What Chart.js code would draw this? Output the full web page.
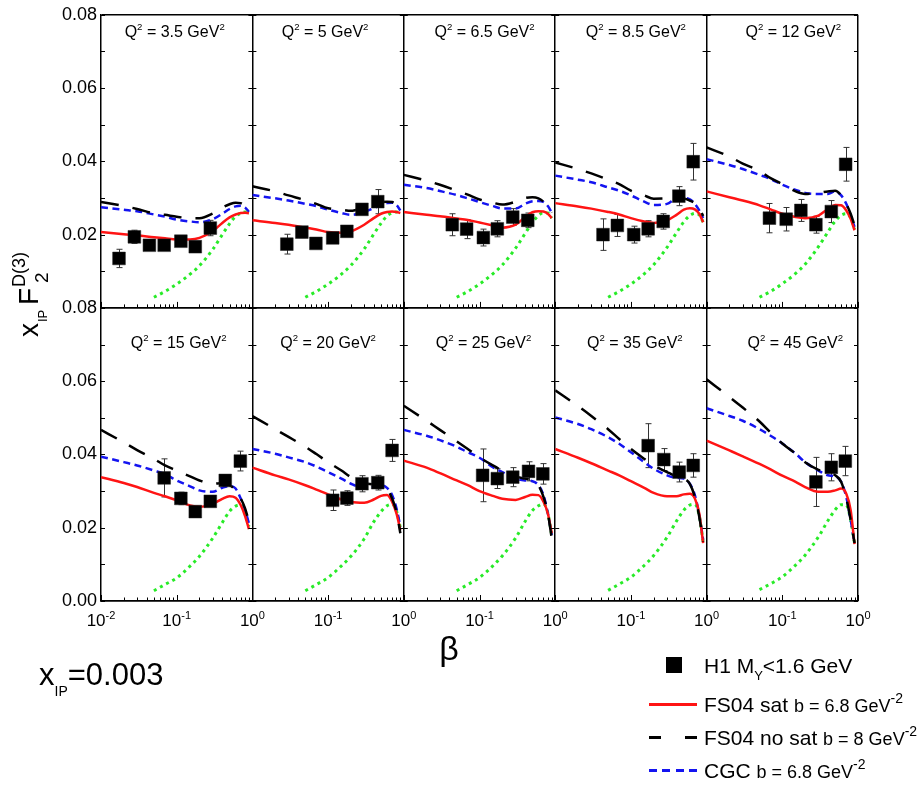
<!DOCTYPE html>
<html>
<head>
<meta charset="utf-8">
<script src="https://cdn.jsdelivr.net/npm/chart.js@4.4.1/dist/chart.umd.min.js"></script>
<style>
  body { margin: 0; background: #fff; }
  #wrap { position: relative; width: 923px; height: 787px; overflow: hidden;
          font-family: "Liberation Sans", Arial, sans-serif; color: #000; }
  #fig { position: absolute; left: 0; top: 0; }
  .lbl { position: absolute; white-space: nowrap; line-height: 1; }
  .sup { position: relative; font-size: 0.6em; top: -0.75em; }
  #ytitle { position: absolute; left: 0; top: 337px; width: 0; height: 0;
            transform-origin: 0 0; transform: rotate(-90deg); }
  #ytitle span { position: absolute; white-space: nowrap; line-height: 1; }
  .key { position: absolute; }
</style>
</head>
<body>
<div id="wrap">
  <canvas id="fig" width="923" height="787"></canvas>
  <div id="ytitle">
    <span style="font-size:28px;left:0;top:15.3px">x</span>
    <span style="font-size:13px;left:15px;top:36px">IP</span>
    <span style="font-size:28px;left:32px;top:15.3px">F</span>
    <span style="font-size:18px;left:50px;top:9.8px">D(3)</span>
    <span style="font-size:19px;left:54px;top:31.9px">2</span>
  </div>
  <div class="key" style="left:666px;top:657px;width:16px;height:16px;background:#000"></div>
  <div class="key" style="left:649px;top:703px;width:48px;height:2.5px;background:rgb(255,20,20)"></div>
  <div class="key" style="left:649px;top:736px;width:12px;height:2.5px;background:#000"></div>
  <div class="key" style="left:685px;top:736px;width:12px;height:2.5px;background:#000"></div>
  <div class="key" style="left:649px;top:769px;width:48px;height:2.5px;
       background:repeating-linear-gradient(90deg, rgb(20,20,240) 0 8px, transparent 8px 13.3px)"></div>
</div>
<script>
// beta grid the model curves are read on
const betaGrid = [0.01, 0.02, 0.03, 0.05, 0.07, 0.1, 0.15, 0.2, 0.3, 0.4, 0.5, 0.6, 0.7, 0.8, 0.9];
const greenGrid = [0.05, 0.07, 0.1, 0.15, 0.2, 0.3, 0.4, 0.5, 0.6, 0.7, 0.8, 0.9];
const q2Values = ["3.5", "5", "6.5", "8.5", "12", "15", "20", "25", "35", "45"];

// FS04 sat, b = 6.8 GeV^-2 (red)
const fsSat = [
  [0.0207, 0.0201, 0.0198, 0.0193, 0.0190, 0.0187, 0.0187, 0.0191, 0.0210, 0.0232, 0.0247, 0.0255, 0.0259, 0.0260, 0.0258],
  [0.0239, 0.0232, 0.0227, 0.0219, 0.0214, 0.0207, 0.0205, 0.0209, 0.0227, 0.0245, 0.0257, 0.0262, 0.0263, 0.0262, 0.0259],
  [0.0262, 0.0254, 0.0250, 0.0244, 0.0240, 0.0233, 0.0225, 0.0219, 0.0227, 0.0248, 0.0261, 0.0264, 0.0263, 0.0257, 0.0245],
  [0.0286, 0.0277, 0.0271, 0.0262, 0.0255, 0.0245, 0.0236, 0.0232, 0.0239, 0.0254, 0.0268, 0.0272, 0.0269, 0.0257, 0.0234],
  [0.0318, 0.0302, 0.0293, 0.0280, 0.0269, 0.0257, 0.0248, 0.0245, 0.0252, 0.0270, 0.0281, 0.0280, 0.0266, 0.0243, 0.0212],
  [0.0338, 0.0322, 0.0311, 0.0295, 0.0286, 0.0275, 0.0261, 0.0257, 0.0265, 0.0279, 0.0286, 0.0282, 0.0262, 0.0232, 0.0196],
  [0.0364, 0.0343, 0.0332, 0.0316, 0.0304, 0.0291, 0.0277, 0.0270, 0.0268, 0.0277, 0.0287, 0.0289, 0.0271, 0.0239, 0.0194],
  [0.0383, 0.0364, 0.0349, 0.0329, 0.0316, 0.0300, 0.0287, 0.0279, 0.0276, 0.0284, 0.0290, 0.0289, 0.0271, 0.0239, 0.0185],
  [0.0415, 0.0391, 0.0376, 0.0356, 0.0343, 0.0327, 0.0309, 0.0295, 0.0286, 0.0286, 0.0291, 0.0293, 0.0280, 0.0239, 0.0158],
  [0.0438, 0.0411, 0.0395, 0.0374, 0.0359, 0.0342, 0.0325, 0.0311, 0.0298, 0.0298, 0.0302, 0.0307, 0.0293, 0.0248, 0.0155]
];

// FS04 no sat, b = 8 GeV^-2 (black long dash)
const fsNoSat = [
  [0.0289, 0.0278, 0.0270, 0.0258, 0.0254, 0.0249, 0.0245, 0.0245, 0.0258, 0.0274, 0.0283, 0.0287, 0.0286, 0.0277, 0.0258],
  [0.0332, 0.0318, 0.0307, 0.0294, 0.0284, 0.0272, 0.0268, 0.0265, 0.0275, 0.0284, 0.0289, 0.0290, 0.0289, 0.0281, 0.0266],
  [0.0363, 0.0347, 0.0336, 0.0320, 0.0309, 0.0296, 0.0287, 0.0282, 0.0290, 0.0300, 0.0302, 0.0299, 0.0290, 0.0278, 0.0260],
  [0.0397, 0.0379, 0.0367, 0.0350, 0.0338, 0.0320, 0.0307, 0.0298, 0.0299, 0.0304, 0.0299, 0.0293, 0.0286, 0.0272, 0.0251],
  [0.0438, 0.0413, 0.0394, 0.0374, 0.0354, 0.0338, 0.0318, 0.0311, 0.0314, 0.0318, 0.0320, 0.0307, 0.0284, 0.0257, 0.0225],
  [0.0467, 0.0433, 0.0412, 0.0388, 0.0370, 0.0356, 0.0340, 0.0329, 0.0320, 0.0322, 0.0316, 0.0302, 0.0280, 0.0253, 0.0216],
  [0.0505, 0.0469, 0.0448, 0.0421, 0.0401, 0.0379, 0.0356, 0.0338, 0.0322, 0.0318, 0.0316, 0.0307, 0.0280, 0.0243, 0.0185],
  [0.0533, 0.0492, 0.0467, 0.0436, 0.0415, 0.0392, 0.0370, 0.0356, 0.0340, 0.0334, 0.0329, 0.0316, 0.0284, 0.0239, 0.0171],
  [0.0575, 0.0532, 0.0505, 0.0469, 0.0442, 0.0415, 0.0388, 0.0370, 0.0352, 0.0340, 0.0334, 0.0320, 0.0284, 0.0230, 0.0162],
  [0.0605, 0.0557, 0.0528, 0.0490, 0.0460, 0.0430, 0.0402, 0.0379, 0.0358, 0.0349, 0.0343, 0.0325, 0.0280, 0.0221, 0.0158]
];

// CGC, b = 6.8 GeV^-2 (blue short dash)
const cgc = [
  [0.0275, 0.0268, 0.0264, 0.0255, 0.0249, 0.0241, 0.0236, 0.0234, 0.0242, 0.0257, 0.0270, 0.0277, 0.0279, 0.0274, 0.0262],
  [0.0308, 0.0299, 0.0293, 0.0284, 0.0278, 0.0268, 0.0259, 0.0254, 0.0262, 0.0272, 0.0281, 0.0286, 0.0287, 0.0281, 0.0266],
  [0.0336, 0.0327, 0.0319, 0.0308, 0.0299, 0.0289, 0.0278, 0.0271, 0.0271, 0.0284, 0.0291, 0.0292, 0.0289, 0.0278, 0.0260],
  [0.0361, 0.0350, 0.0343, 0.0329, 0.0320, 0.0307, 0.0290, 0.0281, 0.0284, 0.0299, 0.0300, 0.0296, 0.0284, 0.0266, 0.0245],
  [0.0406, 0.0390, 0.0379, 0.0363, 0.0352, 0.0336, 0.0322, 0.0314, 0.0311, 0.0311, 0.0318, 0.0307, 0.0284, 0.0252, 0.0221],
  [0.0394, 0.0379, 0.0370, 0.0356, 0.0346, 0.0329, 0.0313, 0.0302, 0.0298, 0.0309, 0.0314, 0.0307, 0.0280, 0.0248, 0.0212],
  [0.0415, 0.0402, 0.0392, 0.0379, 0.0367, 0.0352, 0.0334, 0.0320, 0.0309, 0.0311, 0.0316, 0.0309, 0.0289, 0.0253, 0.0203],
  [0.0467, 0.0451, 0.0439, 0.0421, 0.0406, 0.0391, 0.0365, 0.0352, 0.0334, 0.0329, 0.0327, 0.0316, 0.0289, 0.0239, 0.0180],
  [0.0501, 0.0483, 0.0469, 0.0447, 0.0429, 0.0406, 0.0379, 0.0361, 0.0343, 0.0336, 0.0334, 0.0320, 0.0289, 0.0234, 0.0167],
  [0.0526, 0.0505, 0.0492, 0.0469, 0.0451, 0.0430, 0.0402, 0.0379, 0.0356, 0.0343, 0.0340, 0.0325, 0.0284, 0.0221, 0.0158]
];

// green dotted component, on greenGrid
const greenPart = [
  [0.0029, 0.0045, 0.0065, 0.0092, 0.0115, 0.0160, 0.0200, 0.0230, 0.0250, 0.0258, 0.0262, 0.0258],
  [0.0029, 0.0045, 0.0065, 0.0092, 0.0116, 0.0161, 0.0201, 0.0231, 0.0251, 0.0259, 0.0262, 0.0258],
  [0.0029, 0.0045, 0.0065, 0.0093, 0.0117, 0.0163, 0.0203, 0.0233, 0.0252, 0.0260, 0.0259, 0.0245],
  [0.0029, 0.0045, 0.0065, 0.0093, 0.0118, 0.0165, 0.0205, 0.0235, 0.0252, 0.0258, 0.0254, 0.0234],
  [0.0029, 0.0045, 0.0066, 0.0094, 0.0119, 0.0167, 0.0207, 0.0237, 0.0253, 0.0257, 0.0246, 0.0215],
  [0.0028, 0.0045, 0.0063, 0.0095, 0.0122, 0.0172, 0.0214, 0.0245, 0.0259, 0.0262, 0.0244, 0.0203],
  [0.0028, 0.0045, 0.0064, 0.0096, 0.0122, 0.0170, 0.0216, 0.0244, 0.0260, 0.0264, 0.0246, 0.0200],
  [0.0028, 0.0045, 0.0064, 0.0096, 0.0123, 0.0172, 0.0217, 0.0247, 0.0260, 0.0265, 0.0240, 0.0180],
  [0.0029, 0.0046, 0.0065, 0.0097, 0.0124, 0.0174, 0.0218, 0.0248, 0.0262, 0.0264, 0.0232, 0.0162],
  [0.0031, 0.0047, 0.0066, 0.0098, 0.0125, 0.0175, 0.0219, 0.0249, 0.0263, 0.0262, 0.0221, 0.0158]
];

// H1 data, M_Y < 1.6 GeV
const h1Beta = [
  [0.0173, 0.0276, 0.0436, 0.0683, 0.1135, 0.176, 0.278],
  [0.0285, 0.045, 0.069, 0.115, 0.177, 0.28, 0.453],
  [0.0437, 0.0676, 0.1125, 0.172, 0.275, 0.434],
  [0.0428, 0.0662, 0.109, 0.169, 0.267, 0.43, 0.666],
  [0.0676, 0.1125, 0.176, 0.278, 0.444, 0.687],
  [0.0683, 0.1135, 0.176, 0.278, 0.438, 0.693],
  [0.115, 0.177, 0.28, 0.453, 0.70],
  [0.110, 0.172, 0.275, 0.444, 0.687],
  [0.169, 0.272, 0.435, 0.666],
  [0.278, 0.444, 0.68]
];
const h1Value = [
  [0.0135, 0.0194, 0.0171, 0.0171, 0.0182, 0.0167, 0.0218],
  [0.0174, 0.0207, 0.0176, 0.0191, 0.0209, 0.0269, 0.0290],
  [0.0227, 0.0215, 0.0192, 0.0216, 0.0248, 0.0239],
  [0.0200, 0.0225, 0.0200, 0.0216, 0.0236, 0.0305, 0.0399],
  [0.0245, 0.0242, 0.0266, 0.0227, 0.0263, 0.0392],
  [0.0336, 0.0280, 0.0244, 0.0272, 0.0329, 0.0382],
  [0.0275, 0.0281, 0.0320, 0.0323, 0.0411],
  [0.0343, 0.0334, 0.0338, 0.0354, 0.0347],
  [0.0424, 0.0386, 0.0352, 0.0370],
  [0.0325, 0.0365, 0.0382]
];
const h1Err = [
  [0.0025, 0.0018, 0.0010, 0.0010, 0.0010, 0.0008, 0.0021],
  [0.0027, 0.0015, 0.0008, 0.0012, 0.0012, 0.0012, 0.0033],
  [0.0030, 0.0026, 0.0023, 0.0022, 0.0023, 0.0020],
  [0.0043, 0.0030, 0.0023, 0.0022, 0.0021, 0.0026, 0.0050],
  [0.0040, 0.0032, 0.0030, 0.0023, 0.0030, 0.0046],
  [0.0052, 0.0017, 0.0008, 0.0008, 0.0015, 0.0027],
  [0.0028, 0.0020, 0.0022, 0.0020, 0.0030],
  [0.0072, 0.0027, 0.0026, 0.0026, 0.0028],
  [0.0060, 0.0030, 0.0027, 0.0032],
  [0.0067, 0.0037, 0.0040]
];

const FONT = '"Liberation Sans", Arial, sans-serif';
const RED = "rgb(255,20,20)";
const BLUE = "rgb(20,20,240)";
const GREEN = "rgb(40,235,40)";

function axesFor(p) {
  return { xAxisID: "x" + (p % 5), yAxisID: p < 5 ? "yTop" : "yBot" };
}

function curve(p, xs, ys, color, dash, width, order) {
  return {
    ...axesFor(p),
    data: xs.map((x, i) => ({ x, y: ys[i] })),
    showLine: true,
    pointRadius: 0,
    borderColor: color,
    borderWidth: width,
    borderDash: dash,
    cubicInterpolationMode: "monotone",
    order
  };
}

const datasets = [];
for (let p = 0; p < 10; p++) {
  datasets.push({
    ...axesFor(p),
    data: h1Beta[p].map((x, i) => ({ x, y: h1Value[p][i] })),
    showLine: false,
    pointStyle: "rect",
    pointRadius: 9,
    backgroundColor: "#000",
    borderColor: "#222",
    borderWidth: 0.5,
    order: 0
  });
  datasets.push(curve(p, betaGrid, fsNoSat[p], "#000", [18, 14], 2.5, 1));
  datasets.push(curve(p, betaGrid, fsSat[p], RED, [], 2.5, 2));
  datasets.push(curve(p, betaGrid, cgc[p], BLUE, [7, 4.5], 2.5, 3));
  datasets.push(curve(p, greenGrid, greenPart[p], GREEN, [3, 4], 3, 4));
}

const isDecade = (v) => Math.abs(Math.log10(v) - Math.round(Math.log10(v))) < 1e-6;
const near = (a, b) => Math.abs(a - b) < 1e-9;

const scales = {};
for (let c = 0; c < 5; c++) {
  scales["x" + c] = {
    type: "logarithmic",
    position: "bottom",
    stack: "cols",
    min: 0.01,
    max: 1,
    ticks: { display: false },
    grid: {
      drawTicks: false,
      lineWidth: 1.5,
      color: (ctx) => (ctx.tick && near(ctx.tick.value, 1) ? "#000" : "rgba(0,0,0,0)")
    },
    border: { display: true, color: "#000", width: 1.5 },
    afterFit: (s) => { s.height = 30; }
  };
}

function yScale(skipZero, weight) {
  return {
    type: "linear",
    position: "left",
    stack: "rows",
    weight,
    min: 0,
    max: 0.08,
    ticks: {
      stepSize: 0.01,
      autoSkip: false,
      padding: 4,
      color: "#000",
      font: { family: FONT, size: 18 },
      callback: (v) => {
        const n = Math.round(v * 100);
        if (n % 2 !== 0 || (skipZero && n === 0)) return "";
        return (n / 100).toFixed(2);
      }
    },
    grid: {
      drawTicks: false,
      lineWidth: 1.5,
      color: (ctx) => {
        const n = ctx.tick ? Math.round(ctx.tick.value * 100) : -1;
        return n === 0 || n === 8 ? "#000" : "rgba(0,0,0,0)";
      }
    },
    border: { display: true, color: "#000", width: 1.5 },
    afterFit: (s) => { s.width = 101; }
  };
}
// left boxes are laid out heaviest first, so the top row gets the larger weight
scales.yTop = yScale(true, 2);
scales.yBot = yScale(false, 1);

// error bars under the squares
const errorBars = {
  id: "errorBars",
  beforeDatasetsDraw(chart) {
    const ctx = chart.ctx;
    ctx.save();
    ctx.strokeStyle = "#333";
    ctx.lineWidth = 1;
    for (let p = 0; p < 10; p++) {
      const xs = chart.scales["x" + (p % 5)];
      const ys = chart.scales[p < 5 ? "yTop" : "yBot"];
      h1Beta[p].forEach((b, i) => {
        const x = Math.round(xs.getPixelForValue(b)) + 0.5;
        const hi = ys.getPixelForValue(h1Value[p][i] + h1Err[p][i]);
        const lo = ys.getPixelForValue(h1Value[p][i] - h1Err[p][i]);
        ctx.beginPath();
        ctx.moveTo(x, hi); ctx.lineTo(x, lo);
        ctx.moveTo(x - 3, hi); ctx.lineTo(x + 3, hi);
        ctx.moveTo(x - 3, lo); ctx.lineTo(x + 3, lo);
        ctx.stroke();
      });
    }
    ctx.restore();
  }
};

// inward tick marks and power-of-ten labels
const frameMarks = {
  id: "frameMarks",
  afterDraw(chart) {
    const ctx = chart.ctx;
    const area = chart.chartArea;
    const yTop = chart.scales.yTop;
    const yBot = chart.scales.yBot;
    const xTicks = [];
    for (const d of [0.01, 0.1]) for (let k = 1; k <= 9; k++) xTicks.push(k * d);
    xTicks.push(1);
    const yTicks = [];
    for (let k = 0; k <= 8; k++) yTicks.push(k / 100);

    ctx.save();
    ctx.strokeStyle = "#000";
    ctx.lineWidth = 1;
    ctx.beginPath();
    for (let c = 0; c < 5; c++) {
      const xs = chart.scales["x" + c];
      for (const v of xTicks) {
        const x = Math.round(xs.getPixelForValue(v)) + 0.5;
        const len = isDecade(v) ? 6 : 3.5;
        for (const base of [area.bottom, yTop.bottom]) {
          ctx.moveTo(x, base);
          ctx.lineTo(x, base - len);
        }
      }
      for (const ys of [yTop, yBot]) {
        for (const v of yTicks) {
          const y = Math.round(ys.getPixelForValue(v)) + 0.5;
          ctx.moveTo(xs.left, y); ctx.lineTo(xs.left + 4, y);
          ctx.moveTo(xs.right, y); ctx.lineTo(xs.right - 4, y);
        }
      }
    }
    ctx.stroke();

    ctx.fillStyle = "#000";
    ctx.textBaseline = "alphabetic";
    for (let c = 0; c < 5; c++) {
      const xs = chart.scales["x" + c];
      const vals = c === 0 ? [0.01, 0.1, 1] : [0.1, 1];
      for (const v of vals) {
        const e = String(Math.round(Math.log10(v)));
        ctx.font = "17px " + FONT;
        const wb = ctx.measureText("10").width;
        ctx.font = "11px " + FONT;
        const we = ctx.measureText(e).width;
        const x0 = xs.getPixelForValue(v) - (wb + we) / 2;
        ctx.font = "17px " + FONT;
        ctx.fillText("10", x0, 626);
        ctx.font = "11px " + FONT;
        ctx.fillText(e, x0 + wb, 619);
      }
    }
    ctx.restore();
  }
};

const chart = new Chart(document.getElementById("fig"), {
  type: "scatter",
  data: { datasets },
  options: {
    responsive: false,
    animation: false,
    events: [],
    layout: { padding: { left: 0, right: 65, top: 11, bottom: 156 } },
    plugins: { legend: { display: false }, tooltip: { enabled: false } },
    scales
  },
  plugins: [errorBars, frameMarks]
});

// text placed on a baseline
const wrap = document.getElementById("wrap");
function place(html, size, x, baseline, center) {
  const el = document.createElement("div");
  el.className = "lbl";
  el.innerHTML = html;
  el.style.fontSize = size + "px";
  el.style.left = x + "px";
  el.style.top = baseline - 0.8465 * size + "px";
  if (center) el.style.transform = "translateX(-50%)";
  wrap.append(el);
  return el;
}

const titleShift = [-2, -3, 5, 5, 11, 2, 0, 4, 4, 13];
for (let p = 0; p < 10; p++) {
  const xs = chart.scales["x" + (p % 5)];
  const cx = (xs.left + xs.right) / 2 + titleShift[p];
  place(`Q<span class="sup">2</span> = ${q2Values[p]} GeV<span class="sup">2</span>`, 16, cx, p < 5 ? 37.5 : 349, true);
}

place("β", 34, 449, 660, true);
place('x<span style="position:relative;font-size:14px;top:11px">IP</span>=0.003', 31, 39, 685, false);

const small = (t) => `<span style="font-size:18px">${t}<span style="position:relative;font-size:14px;top:-9px">-2</span></span>`;
place('H1 M<span style="position:relative;font-size:13px;top:7px">Y</span>&lt;1.6 GeV', 21, 704, 673, false);
place("FS04 sat " + small("b = 6.8 GeV"), 21, 704, 712, false);
place("FS04 no sat " + small("b = 8 GeV"), 21, 704, 745, false);
place("CGC " + small("b = 6.8 GeV"), 21, 704, 778, false);
</script>
</body>
</html>
